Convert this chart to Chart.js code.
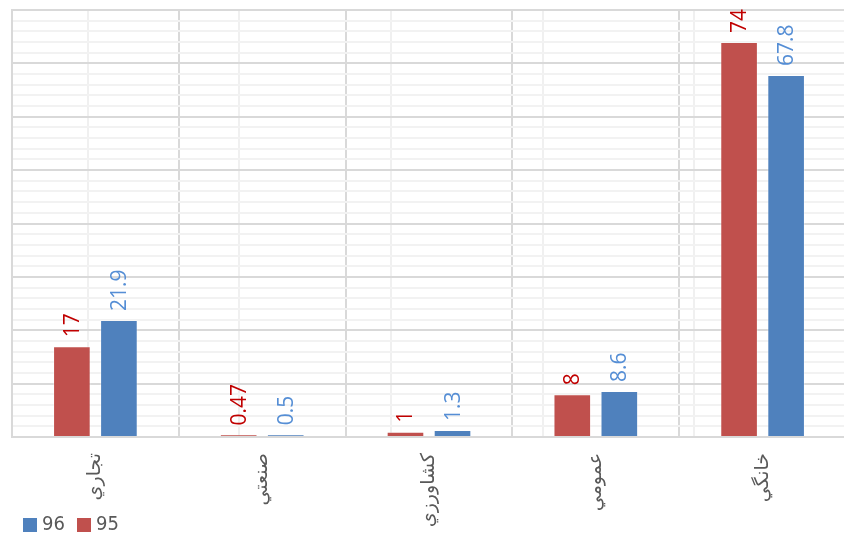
<!DOCTYPE html>
<html>
<head>
<meta charset="utf-8">
<script src="https://cdn.jsdelivr.net/npm/chart.js@4/dist/chart.umd.min.js"></script>
<style>
    html, body { margin: 0; padding: 0; background: #fff; overflow: hidden; }
    #wrap { width: 846px; height: 533px; position: relative; }
</style>
</head>
<body>
<div id="wrap"><canvas id="bar-chart"></canvas></div>
<script>
// chart data
let categories = ['تجاري', 'صنعتي', 'كشاورزي', 'عمومي', 'خانگي'];
let values95 = [17, 0.47, 1, 8, 74];
let values96 = [21.9, 0.5, 1.3, 8.6, 67.8];
let seriesNames = ['95', '96'];
let labelTexts95 = ['17', '0.47', '1', '8', '74'];
let labelTexts96 = ['21.9', '0.5', '1.3', '8.6', '67.8'];

let barColors = ['#c0504d', '#4f81bd'];
let labelColors = ['#c00000', '#558ed5'];

// rotated value labels above each bar
const valueLabels = {
    id: 'valueLabels',
    afterDatasetsDraw(chart) {
        let ctx = chart.ctx;
        let texts = [labelTexts95, labelTexts96];
        chart.data.datasets.forEach((ds, di) => {
            let meta = chart.getDatasetMeta(di);
            meta.data.forEach((bar, i) => {
                ctx.save();
                ctx.translate(bar.x, bar.y - 9);
                ctx.rotate(-Math.PI / 2);
                ctx.font = '21px "Open Sans", "Liberation Sans", sans-serif';
                ctx.fillStyle = labelColors[di];
                ctx.textAlign = 'left';
                ctx.textBaseline = 'middle';
                ctx.fillText(texts[di][i], 0, 1);
                ctx.restore();
            });
        });
    }
};

// legend at bottom left, 96 first
const bottomLegend = {
    id: 'bottomLegend',
    afterDraw(chart) {
        let ctx = chart.ctx;
        let x = 23;
        let y = 518;
        ctx.save();
        ctx.font = '20px "Liberation Sans Narrow", "DejaVu Sans Condensed", sans-serif';
        ctx.textBaseline = 'middle';
        [1, 0].forEach(di => {
            ctx.fillStyle = barColors[di];
            ctx.fillRect(x, y, 14, 14);
            ctx.fillStyle = '#595959';
            ctx.fillText(seriesNames[di], x + 19, y + 7);
            x += 54;
        });
        ctx.restore();
    }
};

function tickValue(c) {
    return c.tick ? c.tick.value : 0;
}

let ctx = document.getElementById('bar-chart');
new Chart(ctx, {
    type: 'bar',
    data: {
        labels: categories,
        datasets: [{
            label: seriesNames[0],
            data: values95,
            backgroundColor: barColors[0],
            borderColor: 'rgba(255,255,255,0.35)',
            borderWidth: 1,
            barPercentage: 0.8,
            categoryPercentage: 0.564,
        }, {
            label: seriesNames[1],
            data: values96,
            backgroundColor: barColors[1],
            borderColor: 'rgba(255,255,255,0.35)',
            borderWidth: 1,
            barPercentage: 0.8,
            categoryPercentage: 0.564,
        }]
    },
    options: {
        responsive: true,
        maintainAspectRatio: false,
        animation: false,
        layout: { padding: { left: 12, top: 10, right: 0, bottom: 0 } },
        plugins: {
            legend: { display: false },
            tooltip: { enabled: false },
        },
        scales: {
            x: {
                grid: { color: '#d9d9d9', lineWidth: 2, offset: true, drawTicks: false },
                border: { color: '#d9d9d9', width: 2 },
                ticks: {
                    color: '#595959',
                    font: { family: '"DejaVu Sans", sans-serif', size: 19 },
                    minRotation: 90,
                    maxRotation: 90,
                    padding: 16,
                },
                afterFit(scale) { scale.height = 96; },
            },
            x2: {
                type: 'linear',
                position: 'top',
                min: 0,
                max: 10,
                ticks: { display: false, stepSize: 1 },
                grid: {
                    drawTicks: false,
                    color: c => (tickValue(c) % 2 === 1 ? '#f0f0f0' : 'rgba(0,0,0,0)'),
                    lineWidth: 2,
                },
                border: { display: false },
                afterFit(scale) { scale.height = 0; },
            },
            y: {
                min: 0,
                max: 80,
                ticks: { display: false, stepSize: 2 },
                grid: {
                    drawTicks: false,
                    color: c => (tickValue(c) % 10 === 0 ? '#d9d9d9' : '#f2f2f2'),
                    lineWidth: 2,
                },
                border: { color: '#d9d9d9', width: 2 },
                afterFit(scale) { scale.width = 0; },
            }
        }
    },
    plugins: [valueLabels, bottomLegend]
});
</script>
</body>
</html>
